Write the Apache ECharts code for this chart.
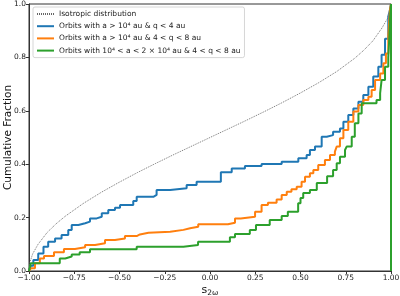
<!DOCTYPE html>
<html>
<head>
<meta charset="utf-8">
<script src="https://cdn.jsdelivr.net/npm/echarts@6/dist/echarts.min.js"></script>
<style>
  html, body { margin: 0; padding: 0; background: #fff; }
  #chart { width: 400px; height: 296px; }
</style>
</head>
<body>
<div id="chart"></div>
<script>
// series names
var names = [
  "Isotropic distribution",
  "Orbits with a > 10\u2074 au & q < 4 au",
  "Orbits with a > 10\u2074 au & 4 < q < 8 au",
  "Orbits with 10\u2074 < a < 2 \u00d7 10\u2074 au & 4 < q < 8 au"
];

// isotropic curve
var isoX = [-1, -0.995, -0.98, -0.95, -0.9, -0.85, -0.8, -0.7, -0.6, -0.5, -0.4, -0.3, -0.2, -0.1, 0,
  0.1, 0.2, 0.3, 0.4, 0.5, 0.6, 0.7, 0.8, 0.85, 0.9, 0.95, 0.98, 0.995, 1];
var isoY = [0, 0.032, 0.064, 0.1, 0.144, 0.177, 0.205, 0.253, 0.295, 0.333, 0.369, 0.403, 0.436, 0.468, 0.5,
  0.532, 0.564, 0.597, 0.631, 0.667, 0.705, 0.747, 0.797, 0.827, 0.862, 0.91, 0.945, 0.972, 1];

// step points [s, fraction], value holds until next point
var blue = [[-1, 0], [-0.99, 0.02], [-0.976, 0.041], [-0.949, 0.066], [-0.92, 0.091], [-0.894, 0.11],
  [-0.856, 0.122], [-0.82, 0.135], [-0.783, 0.154], [-0.764, 0.172], [-0.727, 0.179], [-0.69, 0.185],
  [-0.663, 0.197], [-0.626, 0.203], [-0.598, 0.216], [-0.562, 0.228], [-0.525, 0.237], [-0.497, 0.247],
  [-0.424, 0.262], [-0.405, 0.278], [-0.313, 0.285], [-0.295, 0.303], [-0.22, 0.31], [-0.129, 0.322],
  [-0.074, 0.334], [0.06, 0.37], [0.12, 0.384], [0.193, 0.393], [0.285, 0.401], [0.396, 0.409],
  [0.488, 0.422], [0.534, 0.434], [0.552, 0.453], [0.58, 0.466], [0.617, 0.503], [0.645, 0.509],
  [0.68, 0.522], [0.718, 0.534], [0.737, 0.559], [0.764, 0.584], [0.792, 0.609], [0.82, 0.634],
  [0.847, 0.659], [0.875, 0.69], [0.902, 0.728], [0.93, 0.765], [0.948, 0.81], [0.967, 0.87],
  [0.985, 0.953], [0.994, 0.978], [1, 1], [1, 0]];

var orange = [[-1, 0], [-0.99, 0.01], [-0.967, 0.029], [-0.94, 0.047], [-0.917, 0.056], [-0.862, 0.07],
  [-0.807, 0.082], [-0.746, 0.089], [-0.69, 0.097], [-0.635, 0.104], [-0.58, 0.116], [-0.525, 0.122],
  [-0.47, 0.131], [-0.405, 0.137], [-0.387, 0.143], [-0.34, 0.147], [-0.22, 0.154], [-0.147, 0.16],
  [-0.11, 0.166], [-0.065, 0.175], [0.099, 0.181], [0.138, 0.197], [0.17, 0.203], [0.249, 0.222],
  [0.285, 0.247], [0.32, 0.256], [0.368, 0.268], [0.396, 0.285], [0.424, 0.297], [0.45, 0.306],
  [0.479, 0.316], [0.506, 0.334], [0.525, 0.353], [0.552, 0.366], [0.571, 0.378], [0.598, 0.397],
  [0.635, 0.416], [0.663, 0.434], [0.69, 0.447], [0.7, 0.466], [0.718, 0.497], [0.737, 0.528],
  [0.764, 0.559], [0.792, 0.597], [0.82, 0.622], [0.847, 0.64], [0.875, 0.653], [0.893, 0.678],
  [0.912, 0.715], [0.94, 0.74], [0.958, 0.778], [0.972, 0.815], [0.985, 0.88], [0.994, 0.978],
  [1, 1], [1, 0]];

var green = [[-1, 0], [-0.99, 0.029], [-0.83, 0.047], [-0.8, 0.054], [-0.764, 0.062], [-0.72, 0.07],
  [-0.663, 0.081], [-0.405, 0.091], [-0.147, 0.097], [-0.066, 0.11], [0.11, 0.126], [0.138, 0.139],
  [0.22, 0.154], [0.254, 0.172], [0.33, 0.191], [0.396, 0.206], [0.43, 0.222], [0.487, 0.254],
  [0.5, 0.273], [0.515, 0.292], [0.552, 0.303], [0.59, 0.33], [0.647, 0.355], [0.68, 0.378],
  [0.7, 0.404], [0.718, 0.428], [0.746, 0.453], [0.755, 0.466], [0.783, 0.503], [0.8, 0.553],
  [0.82, 0.59], [0.838, 0.628], [0.92, 0.64], [0.94, 0.666], [0.948, 0.715], [0.967, 0.765],
  [0.985, 0.8], [0.99, 0.865], [0.995, 0.95], [1, 1], [1, 0]];

var xTicks = { min: -1, max: 1, step: 0.25 };
var yTicks = { min: 0, max: 1, step: 0.2 };

var iso = isoX.map(function (x, i) { return [x, isoY[i]]; });

function minus(v, d) {
  return (v < 0 ? "\u2212" : "") + Math.abs(v).toFixed(d);
}

var font = "DejaVu Sans";
var chart = echarts.init(document.getElementById("chart"));
var option = {
  animation: false,
  textStyle: { fontFamily: font },
  grid: {
    left: 29, right: 9, top: 4, bottom: 25,
    outerBoundsMode: "none",
    show: true, borderColor: "#333", borderWidth: 1
  },
  legend: {
    orient: "vertical",
    left: 33, top: 7,
    itemWidth: 17, itemHeight: 6, itemGap: 4.2,
    padding: [3, 4, 3, 3],
    borderColor: "#ccc", borderWidth: 0.8, borderRadius: 2,
    backgroundColor: "rgba(255,255,255,0.8)",
    itemStyle: { opacity: 0 },
    textStyle: { fontSize: 7.5, color: "#222", fontFamily: font },
    data: names
  },
  xAxis: {
    type: "value",
    min: xTicks.min, max: xTicks.max, interval: xTicks.step,
    axisLine: { show: true, onZero: false, lineStyle: { color: "#333", width: 1 } },
    axisTick: { show: true, length: 3, lineStyle: { color: "#333" } },
    axisLabel: { fontSize: 7.5, color: "#222", margin: 3, formatter: function (v) { return minus(v, 2); } },
    splitLine: { show: false },
    name: "s{sub|2\u03c9}",
    nameLocation: "middle",
    nameGap: 12,
    nameMoveOverlap: false,
    nameTextStyle: {
      fontSize: 11, color: "#111", fontFamily: font,
      rich: { sub: { fontSize: 7.5, color: "#111", verticalAlign: "bottom", padding: [6, 0, 0, 0], fontFamily: font } }
    }
  },
  yAxis: {
    type: "value",
    min: yTicks.min, max: yTicks.max, interval: yTicks.step,
    axisLine: { show: true, onZero: false, lineStyle: { color: "#333", width: 1 } },
    axisTick: { show: true, length: 3, lineStyle: { color: "#333" } },
    axisLabel: { fontSize: 7.5, color: "#222", margin: 3, formatter: function (v) { return v.toFixed(1); } },
    splitLine: { show: false },
    name: "Cumulative Fraction",
    nameLocation: "middle",
    nameGap: 15,
    nameMoveOverlap: false,
    nameTextStyle: { fontSize: 10.5, color: "#111", fontFamily: font }
  },
  series: [
    {
      name: names[0], type: "line", data: iso, symbol: "none", smooth: false,
      itemStyle: { color: "#666" },
      lineStyle: { color: "#666", width: 0.9, type: [1, 1] }
    },
    {
      name: names[1], type: "line", step: "end", data: blue, symbol: "none",
      itemStyle: { color: "#1f77b4" },
      lineStyle: { color: "#1f77b4", width: 2 }
    },
    {
      name: names[2], type: "line", step: "end", data: orange, symbol: "none",
      itemStyle: { color: "#ff7f0e" },
      lineStyle: { color: "#ff7f0e", width: 2 }
    },
    {
      name: names[3], type: "line", step: "end", data: green, symbol: "none",
      itemStyle: { color: "#2ca02c" },
      lineStyle: { color: "#2ca02c", width: 2 }
    }
  ]
};
chart.setOption(option);
</script>
</body>
</html>
